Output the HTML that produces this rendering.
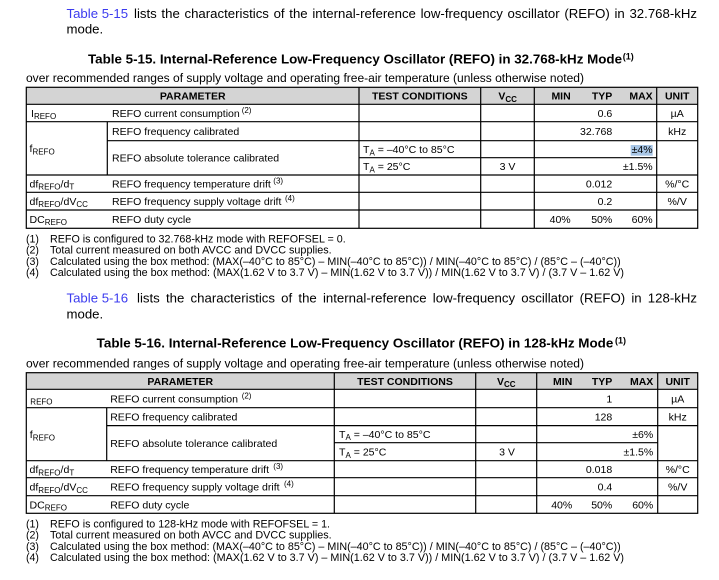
<!DOCTYPE html>
<html><head><meta charset="utf-8"><style>
html,body{margin:0;padding:0;background:#fff;}
svg{display:block;}
text{font-family:"Liberation Sans",Arial,sans-serif;fill:#000;}
.b{font-weight:bold;}
.t{font-size:10.55px;}
.h{font-size:10.5px;font-weight:bold;}
.f{font-size:10.6px;}
.s{font-size:8px;}
.sup{font-size:8px;}
.link{fill:#3b3bef;}
</style></head><body>
<svg width="719" height="580" viewBox="0 0 719 580" xmlns="http://www.w3.org/2000/svg">
<rect width="719" height="580" fill="#fff"/>

<!-- ============ TABLE 5-15 ============ -->
<text x="66.5" y="18" font-size="13.2" class="link">Table 5-15</text>
<text x="134" y="18" font-size="13.2" textLength="563" lengthAdjust="spacing" style="word-spacing:1px">lists the characteristics of the internal-reference low-frequency oscillator (REFO) in 32.768-kHz</text>
<text x="66.5" y="33.3" font-size="13.2">mode.</text>

<text x="88" y="63.3" font-size="13.2" class="b" textLength="534" lengthAdjust="spacingAndGlyphs">Table 5-15. Internal-Reference Low-Frequency Oscillator (REFO) in 32.768-kHz Mode</text>
<text x="622.8" y="59.5" font-size="9" class="b">(1)</text>
<text x="26" y="82" font-size="12.1" textLength="558" lengthAdjust="spacingAndGlyphs">over recommended ranges of supply voltage and operating free-air temperature (unless otherwise noted)</text>

<rect x="26.3" y="87.3" width="671.4" height="17" fill="#d4d4d4"/>
<rect x="630.7" y="145" width="22" height="10.7" fill="#a8c6e6"/>
<g stroke="#000" stroke-width="1.2" fill="none">
<rect x="26.3" y="87.3" width="671.4" height="141"/>
<line x1="26.3" y1="104.3" x2="697.7" y2="104.3"/>
<line x1="26.3" y1="121.7" x2="697.7" y2="121.7"/>
<line x1="107.3" y1="140.7" x2="697.7" y2="140.7"/>
<line x1="359" y1="157.7" x2="656.7" y2="157.7"/>
<line x1="26.3" y1="175" x2="697.7" y2="175"/>
<line x1="26.3" y1="192.3" x2="697.7" y2="192.3"/>
<line x1="26.3" y1="210" x2="697.7" y2="210"/>
<line x1="107.3" y1="121.7" x2="107.3" y2="175"/>
<line x1="359" y1="87.3" x2="359" y2="228.3"/>
<line x1="480.7" y1="87.3" x2="480.7" y2="228.3"/>
<line x1="534.3" y1="87.3" x2="534.3" y2="228.3"/>
<line x1="656.7" y1="87.3" x2="656.7" y2="228.3"/>
</g>

<!-- header -->
<text x="192.7" y="99.6" class="h" text-anchor="middle">PARAMETER</text>
<text x="419.8" y="99.6" class="h" text-anchor="middle">TEST CONDITIONS</text>
<text x="498.4" y="99.6" class="h">V<tspan font-size="8" dy="2.3">CC</tspan></text>
<text x="570.7" y="99.6" class="h" text-anchor="end">MIN</text>
<text x="612.3" y="99.6" class="h" text-anchor="end">TYP</text>
<text x="652.7" y="99.6" class="h" text-anchor="end">MAX</text>
<text x="677.2" y="99.6" class="h" text-anchor="middle">UNIT</text>

<!-- symbols -->
<text x="31" y="116.8" class="t">I<tspan class="s" dy="2.3">REFO</tspan></text>
<text x="29.5" y="152.1" class="t">f<tspan class="s" dy="2.3">REFO</tspan></text>
<text x="29.5" y="187.4" class="t">df<tspan class="s" dy="2.3">REFO</tspan><tspan dy="-2.3">/d</tspan><tspan class="s" dy="2.3">T</tspan></text>
<text x="29.5" y="204.9" class="t">df<tspan class="s" dy="2.3">REFO</tspan><tspan dy="-2.3">/dV</tspan><tspan class="s" dy="2.3">CC</tspan></text>
<text x="29.5" y="222.9" class="t">DC<tspan class="s" dy="2.3">REFO</tspan></text>

<!-- descriptions -->
<text x="112" y="116.8" class="t">REFO current consumption</text>
<text x="241.7" y="113" class="sup">(2)</text>
<text x="112" y="135" class="t">REFO frequency calibrated</text>
<text x="112" y="161.6" class="t">REFO absolute tolerance calibrated</text>
<text x="112" y="187.4" class="t">REFO frequency temperature drift</text>
<text x="273.3" y="183.6" class="sup">(3)</text>
<text x="112" y="204.9" class="t">REFO frequency supply voltage drift</text>
<text x="285" y="201.1" class="sup">(4)</text>
<text x="112" y="222.9" class="t">REFO duty cycle</text>

<!-- test conditions -->
<text x="363" y="153" class="t">T<tspan class="s" dy="2.3">A</tspan><tspan dy="-2.3"> = –40°C to 85°C</tspan></text>
<text x="363" y="170.1" class="t">T<tspan class="s" dy="2.3">A</tspan><tspan dy="-2.3"> = 25°C</tspan></text>
<text x="507.5" y="170.1" class="t" text-anchor="middle">3 V</text>

<!-- values -->
<text x="612.3" y="116.8" class="t" text-anchor="end">0.6</text>
<text x="677.2" y="116.8" class="t" text-anchor="middle">µA</text>
<text x="612.3" y="135" class="t" text-anchor="end">32.768</text>
<text x="677.2" y="135" class="t" text-anchor="middle">kHz</text>
<text x="652.7" y="153" class="t" text-anchor="end">±4%</text>
<text x="652.7" y="170.1" class="t" text-anchor="end">±1.5%</text>
<text x="612.3" y="187.4" class="t" text-anchor="end">0.012</text>
<text x="677.2" y="187.4" class="t" text-anchor="middle">%/°C</text>
<text x="612.3" y="204.9" class="t" text-anchor="end">0.2</text>
<text x="677.2" y="204.9" class="t" text-anchor="middle">%/V</text>
<text x="570.7" y="222.9" class="t" text-anchor="end">40%</text>
<text x="612.3" y="222.9" class="t" text-anchor="end">50%</text>
<text x="652.7" y="222.9" class="t" text-anchor="end">60%</text>

<!-- footnotes -->
<text x="26" y="242.3" class="f">(1)</text>
<text x="50" y="242.3" class="f" textLength="295.7" lengthAdjust="spacingAndGlyphs">REFO is configured to 32.768-kHz mode with REFOFSEL = 0.</text>
<text x="26" y="253.7" class="f">(2)</text>
<text x="50" y="253.7" class="f" textLength="281.7" lengthAdjust="spacingAndGlyphs">Total current measured on both AVCC and DVCC supplies.</text>
<text x="26" y="265" class="f">(3)</text>
<text x="50" y="265" class="f" textLength="570.7" lengthAdjust="spacingAndGlyphs">Calculated using the box method: (MAX(–40°C to 85°C) – MIN(–40°C to 85°C)) / MIN(–40°C to 85°C) / (85°C – (–40°C))</text>
<text x="26" y="276" class="f">(4)</text>
<text x="50" y="276" class="f" textLength="574" lengthAdjust="spacingAndGlyphs">Calculated using the box method: (MAX(1.62 V to 3.7 V) – MIN(1.62 V to 3.7 V)) / MIN(1.62 V to 3.7 V) / (3.7 V – 1.62 V)</text>

<!-- ============ TABLE 5-16 ============ -->
<text x="66.5" y="302.3" font-size="13.2" class="link">Table 5-16</text>
<text x="137" y="302.3" font-size="13.2" textLength="560" lengthAdjust="spacing" style="word-spacing:2.5px">lists the characteristics of the internal-reference low-frequency oscillator (REFO) in 128-kHz</text>
<text x="66.5" y="318.3" font-size="13.2">mode.</text>

<text x="96.7" y="347.3" font-size="13.2" class="b" textLength="516.6" lengthAdjust="spacingAndGlyphs">Table 5-16. Internal-Reference Low-Frequency Oscillator (REFO) in 128-kHz Mode</text>
<text x="615" y="343.5" font-size="9" class="b">(1)</text>
<text x="26" y="367.3" font-size="12.1" textLength="558" lengthAdjust="spacingAndGlyphs">over recommended ranges of supply voltage and operating free-air temperature (unless otherwise noted)</text>

<rect x="26.3" y="372.7" width="671.4" height="16.6" fill="#d4d4d4"/>
<g stroke="#000" stroke-width="1.2" fill="none">
<rect x="26.3" y="372.7" width="671.4" height="140.6"/>
<line x1="26.3" y1="389.3" x2="697.7" y2="389.3"/>
<line x1="26.3" y1="407.7" x2="697.7" y2="407.7"/>
<line x1="106.7" y1="425.6" x2="697.7" y2="425.6"/>
<line x1="334.3" y1="442.7" x2="657.7" y2="442.7"/>
<line x1="26.3" y1="460.7" x2="697.7" y2="460.7"/>
<line x1="26.3" y1="477.7" x2="697.7" y2="477.7"/>
<line x1="26.3" y1="495.7" x2="697.7" y2="495.7"/>
<line x1="106.7" y1="407.7" x2="106.7" y2="460.7"/>
<line x1="334.3" y1="372.7" x2="334.3" y2="513.3"/>
<line x1="475.7" y1="372.7" x2="475.7" y2="513.3"/>
<line x1="536.7" y1="372.7" x2="536.7" y2="513.3"/>
<line x1="657.7" y1="372.7" x2="657.7" y2="513.3"/>
</g>

<text x="180.3" y="384.8" class="h" text-anchor="middle">PARAMETER</text>
<text x="405" y="384.8" class="h" text-anchor="middle">TEST CONDITIONS</text>
<text x="497" y="384.8" class="h">V<tspan font-size="8" dy="2.3">CC</tspan></text>
<text x="572.3" y="384.8" class="h" text-anchor="end">MIN</text>
<text x="612.3" y="384.8" class="h" text-anchor="end">TYP</text>
<text x="653.3" y="384.8" class="h" text-anchor="end">MAX</text>
<text x="677.7" y="384.8" class="h" text-anchor="middle">UNIT</text>

<text x="30.3" y="404.6" class="s">REFO</text>
<text x="29.8" y="438" class="t">f<tspan class="s" dy="2.3">REFO</tspan></text>
<text x="29.5" y="473" class="t">df<tspan class="s" dy="2.3">REFO</tspan><tspan dy="-2.3">/d</tspan><tspan class="s" dy="2.3">T</tspan></text>
<text x="29.5" y="490.5" class="t">df<tspan class="s" dy="2.3">REFO</tspan><tspan dy="-2.3">/dV</tspan><tspan class="s" dy="2.3">CC</tspan></text>
<text x="29.5" y="508.3" class="t">DC<tspan class="s" dy="2.3">REFO</tspan></text>

<text x="110.2" y="402.3" class="t">REFO current consumption</text>
<text x="241.7" y="398.5" class="sup">(2)</text>
<text x="110.2" y="420.4" class="t">REFO frequency calibrated</text>
<text x="110.2" y="446.9" class="t">REFO absolute tolerance calibrated</text>
<text x="110.2" y="473" class="t">REFO frequency temperature drift</text>
<text x="273.3" y="469.2" class="sup">(3)</text>
<text x="110.2" y="490.5" class="t">REFO frequency supply voltage drift</text>
<text x="284" y="486.7" class="sup">(4)</text>
<text x="110.2" y="508.3" class="t">REFO duty cycle</text>

<text x="339" y="437.9" class="t">T<tspan class="s" dy="2.3">A</tspan><tspan dy="-2.3"> = –40°C to 85°C</tspan></text>
<text x="339" y="455.5" class="t">T<tspan class="s" dy="2.3">A</tspan><tspan dy="-2.3"> = 25°C</tspan></text>
<text x="507" y="455.5" class="t" text-anchor="middle">3 V</text>

<text x="612.3" y="402.3" class="t" text-anchor="end">1</text>
<text x="677.7" y="402.3" class="t" text-anchor="middle">µA</text>
<text x="612.3" y="420.4" class="t" text-anchor="end">128</text>
<text x="677.7" y="420.4" class="t" text-anchor="middle">kHz</text>
<text x="653.3" y="437.9" class="t" text-anchor="end">±6%</text>
<text x="653.3" y="455.5" class="t" text-anchor="end">±1.5%</text>
<text x="612.3" y="473" class="t" text-anchor="end">0.018</text>
<text x="677.7" y="473" class="t" text-anchor="middle">%/°C</text>
<text x="612.3" y="490.5" class="t" text-anchor="end">0.4</text>
<text x="677.7" y="490.5" class="t" text-anchor="middle">%/V</text>
<text x="572.3" y="508.3" class="t" text-anchor="end">40%</text>
<text x="612.3" y="508.3" class="t" text-anchor="end">50%</text>
<text x="653.3" y="508.3" class="t" text-anchor="end">60%</text>

<text x="26" y="527.3" class="f">(1)</text>
<text x="50" y="527.3" class="f" textLength="280" lengthAdjust="spacingAndGlyphs">REFO is configured to 128-kHz mode with REFOFSEL = 1.</text>
<text x="26" y="538.7" class="f">(2)</text>
<text x="50" y="538.7" class="f" textLength="281.7" lengthAdjust="spacingAndGlyphs">Total current measured on both AVCC and DVCC supplies.</text>
<text x="26" y="550" class="f">(3)</text>
<text x="50" y="550" class="f" textLength="570.7" lengthAdjust="spacingAndGlyphs">Calculated using the box method: (MAX(–40°C to 85°C) – MIN(–40°C to 85°C)) / MIN(–40°C to 85°C) / (85°C – (–40°C))</text>
<text x="26" y="561" class="f">(4)</text>
<text x="50" y="561" class="f" textLength="574" lengthAdjust="spacingAndGlyphs">Calculated using the box method: (MAX(1.62 V to 3.7 V) – MIN(1.62 V to 3.7 V)) / MIN(1.62 V to 3.7 V) / (3.7 V – 1.62 V)</text>
</svg>
</body></html>
